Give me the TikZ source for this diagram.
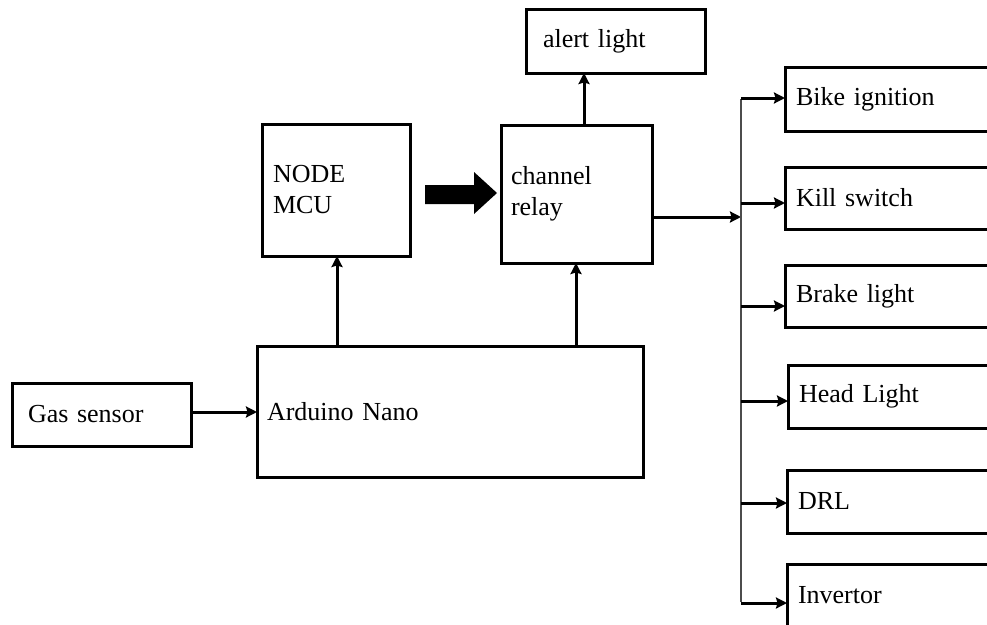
\documentclass[tikz,border=0pt]{standalone}
\usepackage{fontspec}
\setmainfont{Liberation Serif}[WordSpace=0.75]
\usetikzlibrary{arrows.meta}
\begin{document}
\begin{tikzpicture}[x=1pt,y=-1pt,
  bx/.style={draw, line width=3pt, rectangle, anchor=north west, align=left,
    inner ysep=0pt, outer sep=0pt, font=\fontsize{26}{31}\selectfont},
  rbx/.style={bx, minimum width=215pt, inner xsep=11pt, text width=193pt},
  arr/.style={line width=3pt, -{Stealth[length=11pt,width=11pt,inset=1.5pt]}},
  busline/.style={line width=1.5pt, draw=black!70},
  fatarrow/.style={fill=black}]
\useasboundingbox (0,0) rectangle (987,624);
\clip (0,0) rectangle (987,624);
% boxes
\node[bx, minimum width=179pt, minimum height=64pt, inner xsep=17pt, text width=145pt] (alert) at (526,9) {alert light};
\node[bx, minimum width=148pt, minimum height=132pt, inner xsep=11pt, text width=126pt] (mcu) at (262,124) {NODE\\MCU};
\node[bx, minimum width=151pt, minimum height=138pt, inner xsep=10pt, text width=131pt] (relay) at (501,125) {channel\\relay};
\node[bx, minimum width=386pt, minimum height=131pt, inner xsep=10pt, text width=366pt] (nano) at (257,346) {Arduino Nano};
\node[bx, minimum width=179pt, minimum height=63pt, inner xsep=16pt, text width=147pt] (gas) at (12,383) {Gas sensor};
\node[rbx, minimum height=64pt] (bike) at (785,67) {Bike ignition};
\node[rbx, minimum height=62pt] (kill) at (785,167) {Kill switch};
\node[rbx, minimum height=62pt] (brake) at (785,265) {Brake light};
\node[rbx, minimum height=63pt] (head) at (788,365) {Head Light};
\node[rbx, minimum height=63pt] (drl) at (787,470) {DRL};
\node[rbx, minimum height=63pt] (inv) at (787,564) {Invertor};
% bus coordinates
\coordinate (b1) at (741,98);
\coordinate (b2) at (741,203);
\coordinate (b3) at (741,306);
\coordinate (b4) at (741,401);
\coordinate (b5) at (741,503);
\coordinate (b6) at (741,603);
\coordinate (bj) at (741,217);
% thick arrow between NODE MCU and relay
\fill[fatarrow] (425,185) -- (474,185) -- (474,172) -- (497,193) -- (474,214) -- (474,204) -- (425,204) -- cycle;
% connectors
\draw[arr] (gas.east |- 0,412) -- (nano.west |- 0,412);
\draw[arr] (nano.north -| 337,0) -- (mcu.south -| 337,0);
\draw[arr] (nano.north -| 576,0) -- (relay.south -| 576,0);
\draw[arr] (relay.north -| 584,0) -- (alert.south -| 584,0);
\draw[arr] (relay.east |- bj) -- (bj);
\draw[busline] ([yshift=-1pt]b1) -- ([yshift=1pt]b6);
\draw[arr] (b1) -- (b1 -| bike.west);
\draw[arr] (b2) -- (b2 -| kill.west);
\draw[arr] (b3) -- (b3 -| brake.west);
\draw[arr] (b4) -- (b4 -| head.west);
\draw[arr] (b5) -- (b5 -| drl.west);
\draw[arr] (b6) -- (b6 -| inv.west);
\end{tikzpicture}
\end{document}
